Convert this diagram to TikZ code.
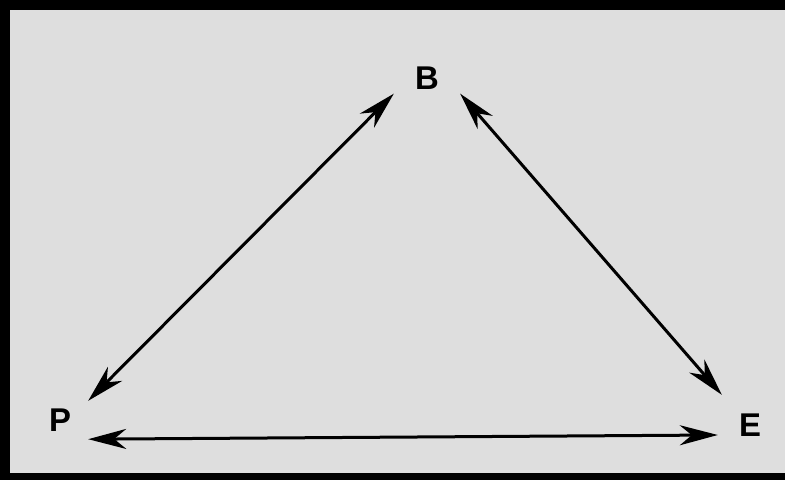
\documentclass[tikz,border=0pt]{standalone}
\usepackage{fontspec}
\setmainfont{Liberation Sans}
\usetikzlibrary{arrows.meta,positioning}

\definecolor{paper}{RGB}{222,222,222}

\begin{document}
\begin{tikzpicture}[
            x=1bp, y=1bp,
            vertex/.style={inner sep=0pt, font=\fontsize{33}{40}\selectfont\bfseries},
            link/.style={<->, line width=3bp},
            >={Stealth[length=38bp, width=20bp, inset=12bp]}
        ]
        \useasboundingbox (0,0) rectangle (785,480);
        \fill[black] (0,0) rectangle (785,480);
        \fill[paper] (10,7) rectangle (785,470);

        \node[vertex, minimum width=66bp, minimum height=31bp] (B) at (427,402) {B};
        \node[vertex, minimum width=56bp, minimum height=38bp] (P) at (60,60) {P};
        \node[vertex, minimum width=56bp, minimum height=60bp] (E) at (750,55) {E};

        \draw[link] (B.south west) -- (P.north east);
        \draw[link] (B.south east) -- (E.north west);
        \draw[link] (P.south east) -- ([xshift=-4bp, yshift=-10bp]E.west);
    \end{tikzpicture}
\end{document}
